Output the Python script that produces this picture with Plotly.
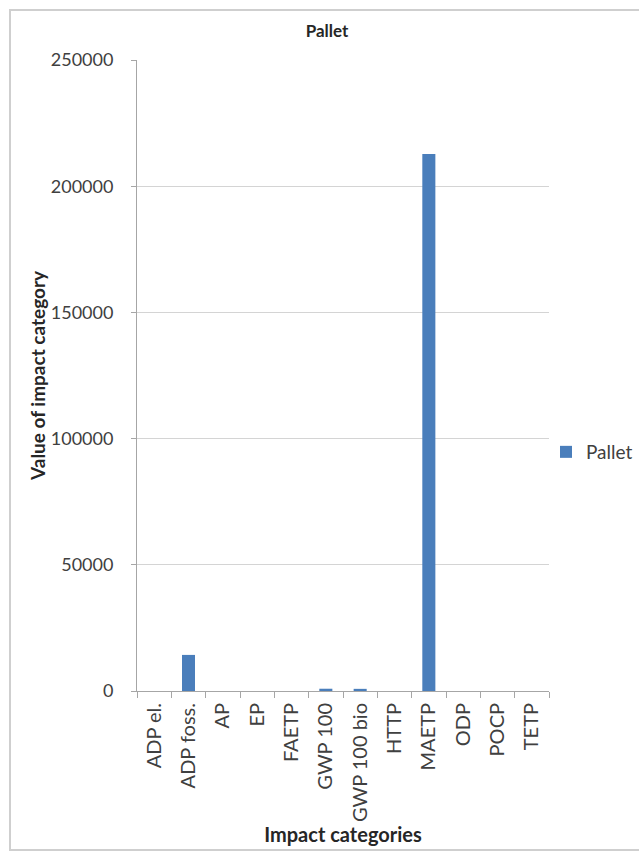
import plotly.graph_objects as go

# Impact category results for the pallet
categories = ["ADP el.", "ADP foss.", "AP", "EP", "FAETP", "GWP 100",
              "GWP 100 bio", "HTTP", "MAETP", "ODP", "POCP", "TETP"]
values = [0, 14300, 0, 0, 0, 900, 850, 0, 212800, 0, 0, 0]
y_ticks = [0, 50000, 100000, 150000, 200000, 250000]

FONT = "Lato"
TEXT = "#404040"
W, H = 639, 858
L, R, T, B = 137, 90, 60, 167

fig = go.Figure()
fig.add_trace(go.Bar(
    x=categories, y=values, name="Pallet",
    marker=dict(color="#4A7EBB", line=dict(width=0)),
))

pw, ph = W - L - R, H - T - B
def px_x(p):
    return (p - L) / pw
def px_y(p):
    return (H - B - p) / ph

fig.update_layout(
    width=W, height=H,
    margin=dict(l=L, r=R, t=T, b=B, autoexpand=False),
    paper_bgcolor="white", plot_bgcolor="white",
    font=dict(family=FONT, color=TEXT, size=18),
    bargap=0.62,
    title=dict(text="<b>Pallet</b>", x=327 / W, xanchor="center",
               y=1 - 31 / H, yanchor="middle",
               font=dict(family=FONT, size=17, color="#262626")),
    showlegend=True,
    legend=dict(x=px_x(546), y=px_y(452), xanchor="left", yanchor="middle",
                font=dict(size=19, color=TEXT), bgcolor="rgba(0,0,0,0)"),
    xaxis=dict(
        tickangle=-90, tickfont=dict(size=20, color=TEXT),
        ticklabelstandoff=3,
        showline=True, linecolor="#a6a6a6", linewidth=1,
        ticks="outside", ticklen=6, tickcolor="#a6a6a6", tickson="boundaries",
        showgrid=False,
        title=dict(text="<b>Impact categories</b>", standoff=2,
                   font=dict(size=20, color="#262626")),
    ),
    yaxis=dict(
        range=[0, 250000], tickvals=y_ticks, tickformat="d",
        tickfont=dict(size=18, color=TEXT), ticklabelstandoff=14,
        showline=True, linecolor="#a6a6a6", linewidth=1,
        ticks="outside", ticklen=5, tickcolor="#a6a6a6",
        showgrid=True, gridcolor="#d4d4d4", gridwidth=1,
        zeroline=False,
        title=dict(text="<b>Value of impact category</b>", standoff=0,
                   font=dict(size=19, color="#262626")),
    ),
    shapes=[dict(type="rect", xref="paper", yref="paper",
                 x0=px_x(10), x1=px_x(W + 5), y0=px_y(850), y1=px_y(10),
                 line=dict(color="#cfcfcf", width=2), layer="below")],
)

fig.write_html("out.html")
